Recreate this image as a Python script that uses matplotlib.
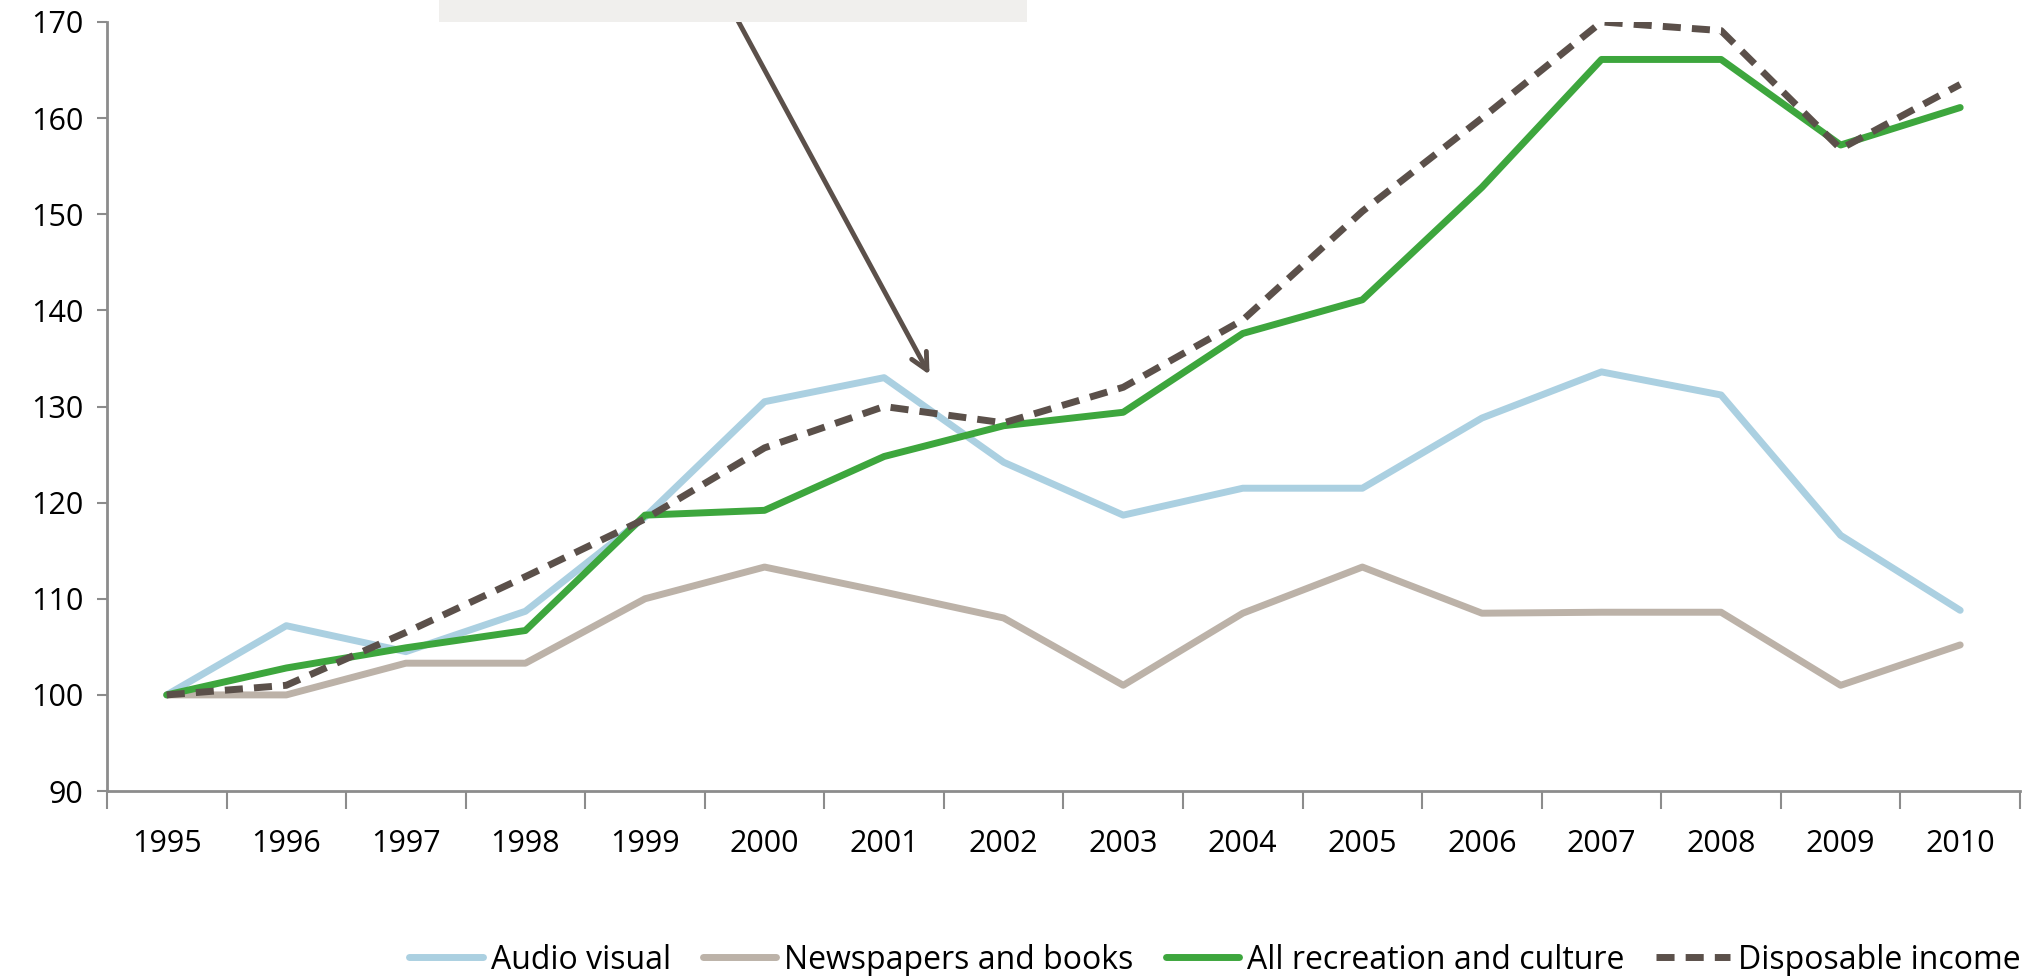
import matplotlib
matplotlib.use("Agg")
import matplotlib.pyplot as plt
from matplotlib.patches import Rectangle

plt.rcParams['font.family'] = ['Open Sans', 'DejaVu Sans']

years = ['1995', '1996', '1997', '1998', '1999', '2000', '2001', '2002',
         '2003', '2004', '2005', '2006', '2007', '2008', '2009', '2010']
audio_visual = [100, 107.2, 104.5, 108.7, 118.5, 130.5, 133.0, 124.2,
                118.7, 121.5, 121.5, 128.8, 133.6, 131.2, 116.6, 108.8]
newspapers_books = [100, 100, 103.3, 103.3, 110.0, 113.3, 110.7, 108.0,
                    101.0, 108.5, 113.3, 108.5, 108.6, 108.6, 101.0, 105.2]
all_recreation = [100, 102.8, 104.9, 106.7, 118.7, 119.2, 124.8, 128.0,
                  129.4, 137.6, 141.1, 152.8, 166.1, 166.1, 157.2, 161.1]
disposable_income = [100, 101.0, 106.5, 112.3, 118.3, 125.7, 130.0, 128.3,
                     132.0, 139.0, 150.3, 160.0, 170.0, 169.1, 156.8, 163.5]
series_names = ['Audio visual', 'Newspapers and books',
                'All recreation and culture', 'Disposable income']
y_ticks = [90, 100, 110, 120, 130, 140, 150, 160, 170]

fig = plt.figure(figsize=(20.41, 9.76), dpi=100)
ax = fig.add_axes([0.0524, 0.1895, 0.9373, 0.788])

x = list(range(len(years)))
ax.plot(x, audio_visual, color='#abd0e1', lw=5, label=series_names[0], solid_capstyle='round')
ax.plot(x, newspapers_books, color='#bcb2a8', lw=5, label=series_names[1], solid_capstyle='round')
ax.plot(x, all_recreation, color='#3da63d', lw=5, label=series_names[2], solid_capstyle='round')
ax.plot(x, disposable_income, color='#5b504a', lw=5, ls=(0, (2.6, 1.6)), label=series_names[3])

ax.set_xlim(-0.5, len(years) - 0.5)
ax.set_ylim(90, 170)
ax.set_yticks(y_ticks)
ax.set_yticklabels([str(v) for v in y_ticks])
ax.set_xticks(x)
ax.set_xticklabels(years)
ax.set_xticks([i - 0.5 for i in range(len(years) + 1)], minor=True)

for s in ['top', 'right']:
    ax.spines[s].set_visible(False)
for s in ['left', 'bottom']:
    ax.spines[s].set_color('#8c8c8c')
    ax.spines[s].set_linewidth(2)

ax.tick_params(axis='y', direction='out', length=7, width=1.5, color='#8c8c8c',
               labelsize=22, pad=10)
ax.tick_params(axis='x', which='major', length=0, labelsize=22, pad=27)
ax.tick_params(axis='x', which='minor', direction='out', length=13, width=1.5,
               color='#8c8c8c')

# annotation box (cut off at top) and arrow
fig.patches.append(Rectangle((439 / 2041, 1 - 22 / 976), (1027 - 439) / 2041, 22 / 976,
                             transform=fig.transFigure, facecolor='#f0efed',
                             edgecolor='none', zorder=0))
ax.annotate('', xy=(6.38, 133.3), xytext=(4.77, 170.3),
            arrowprops=dict(arrowstyle='->', color='#5b504a', lw=3.5,
                            mutation_scale=30, shrinkA=0, shrinkB=0),
            annotation_clip=False)

leg = fig.legend(loc='lower right', bbox_to_anchor=(1.004, -0.03), ncol=4,
                 frameon=False, fontsize=23, handlelength=2.3, handletextpad=0.25,
                 columnspacing=1.0)

fig.savefig('out.png', dpi=100)
